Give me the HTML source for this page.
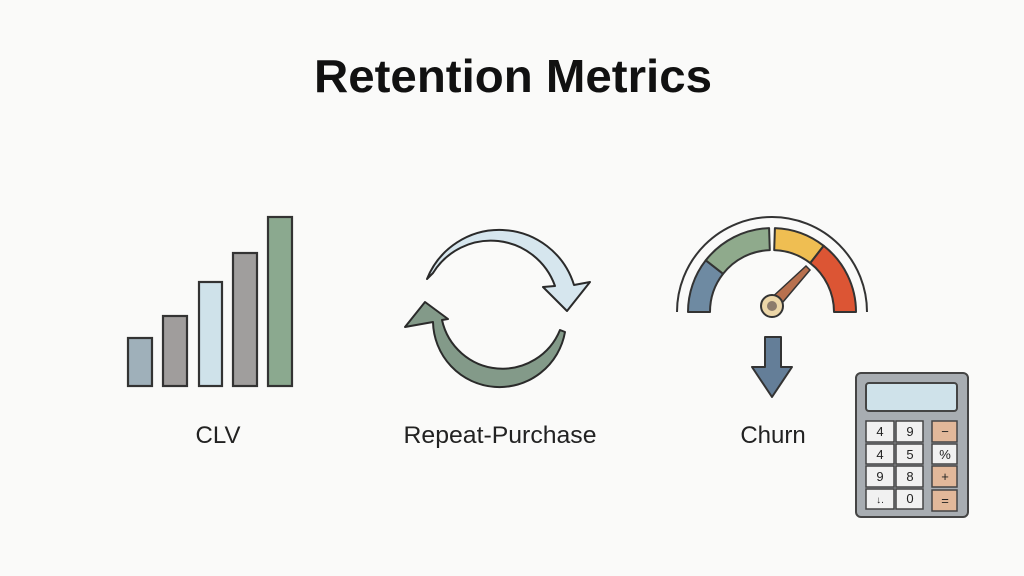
<!DOCTYPE html>
<html><head><meta charset="utf-8"><style>
html,body{margin:0;padding:0;background:#fafaf9;}
svg{display:block;}
text{font-family:"Liberation Sans",sans-serif;}
</style></head><body>
<svg width="1024" height="576" viewBox="0 0 1024 576" xmlns="http://www.w3.org/2000/svg">
<rect width="1024" height="576" fill="#fafaf9"/>
<text x="513" y="92" text-anchor="middle" font-size="46" font-weight="bold" fill="#111" textLength="398" lengthAdjust="spacingAndGlyphs">Retention Metrics</text>

<!-- bars -->
<g stroke="#333" stroke-width="2.2">
<rect x="128" y="338" width="24" height="48" fill="#9fb0ba"/>
<rect x="163" y="316" width="24" height="70" fill="#a09d9c"/>
<rect x="199" y="282" width="23" height="104" fill="#cfe2ea"/>
<rect x="233" y="253" width="24" height="133" fill="#a09e9d"/>
<rect x="268" y="217" width="24" height="169" fill="#8ba98f"/>
</g>
<text x="218" y="443" text-anchor="middle" font-size="24" fill="#222">CLV</text>

<!-- cycle arrows -->
<g stroke="#2a2a2a" stroke-width="2" stroke-linejoin="round">
<path d="M427 279 A78 78 0 0 1 574 285 L590 282 L567 311 L543 287 L555 286 A68 68 0 0 0 433 273 Z" fill="#d6e6ee"/>
<path d="M565 332 A66.5 66.5 0 0 1 433 322 L405 327 L425 302 L448 319 L442 320 A62 62 0 0 0 560 330 Z" fill="#839a89"/>
</g>
<text x="500" y="443" text-anchor="middle" font-size="24" fill="#222" textLength="193" lengthAdjust="spacingAndGlyphs">Repeat-Purchase</text>

<!-- gauge -->
<path d="M677 312 A95 95 0 0 1 867 312" fill="none" stroke="#333" stroke-width="2"/>
<g stroke="#333" stroke-width="2" stroke-linejoin="round">
<path d="M688 312 A84 84 0 0 1 705.8 260.3 L723.1 273.8 A62 62 0 0 0 710 312 Z" fill="#6e8aa2"/>
<path d="M705.8 260.3 A84 84 0 0 1 769.1 228.1 L769.8 250.1 A62 62 0 0 0 723.1 273.8 Z" fill="#8faa8c"/>
<path d="M774.9 228.1 A84 84 0 0 1 823.7 245.8 L810.2 263.1 A62 62 0 0 0 774.2 250.1 Z" fill="#efbe52"/>
<path d="M823.7 245.8 A84 84 0 0 1 856 312 L834 312 A62 62 0 0 0 810.2 263.1 Z" fill="#dc5534"/>
</g>
<path d="M768 301 L806 266 L810 270 L777 309 Z" fill="#b8704e" stroke="#333" stroke-width="1.5"/>
<circle cx="772" cy="306" r="11" fill="#ecd6a8" stroke="#333" stroke-width="2"/>
<circle cx="772" cy="306" r="5" fill="#8c7b6c"/>
<path d="M765 337 L781 337 L781 367 L792 367 L772 397 L752 367 L765 367 Z" fill="#647e98" stroke="#333" stroke-width="2" stroke-linejoin="round"/>
<text x="773" y="443" text-anchor="middle" font-size="24" fill="#222">Churn</text>

<!-- calculator -->
<rect x="856" y="373" width="112" height="144" rx="5" fill="#a8adb2" stroke="#444" stroke-width="2"/>
<rect x="866" y="383" width="91" height="28" rx="3" fill="#cfe2ea" stroke="#444" stroke-width="2"/>
<g stroke="#444" stroke-width="1.5">
<rect x="866" y="421" width="28" height="21" fill="#f1f1f1"/>
<rect x="896" y="421" width="27" height="21" fill="#f1f1f1"/>
<rect x="932" y="421" width="25" height="21" fill="#e2b89a"/>
<rect x="866" y="444" width="28" height="20" fill="#f1f1f1"/>
<rect x="896" y="444" width="27" height="20" fill="#f1f1f1"/>
<rect x="932" y="444" width="25" height="20" fill="#f1f1f1"/>
<rect x="866" y="466" width="28" height="21" fill="#f1f1f1"/>
<rect x="896" y="466" width="27" height="21" fill="#f1f1f1"/>
<rect x="932" y="466" width="25" height="21" fill="#e2b89a"/>
<rect x="866" y="489" width="28" height="20" fill="#f1f1f1"/>
<rect x="896" y="489" width="27" height="20" fill="#f1f1f1"/>
<rect x="932" y="490" width="25" height="21" fill="#e2b89a"/>
</g>
<g font-size="13" text-anchor="middle" fill="#222">
<text x="880" y="436">4</text><text x="910" y="436">9</text><text x="945" y="436">−</text>
<text x="880" y="459">4</text><text x="910" y="459">5</text><text x="945" y="459">%</text>
<text x="880" y="481">9</text><text x="910" y="481">8</text><text x="945" y="481">+</text>
<text x="880" y="503" font-size="10">↓.</text><text x="910" y="503">0</text><text x="945" y="505">=</text>
</g>
</svg>
</body></html>
